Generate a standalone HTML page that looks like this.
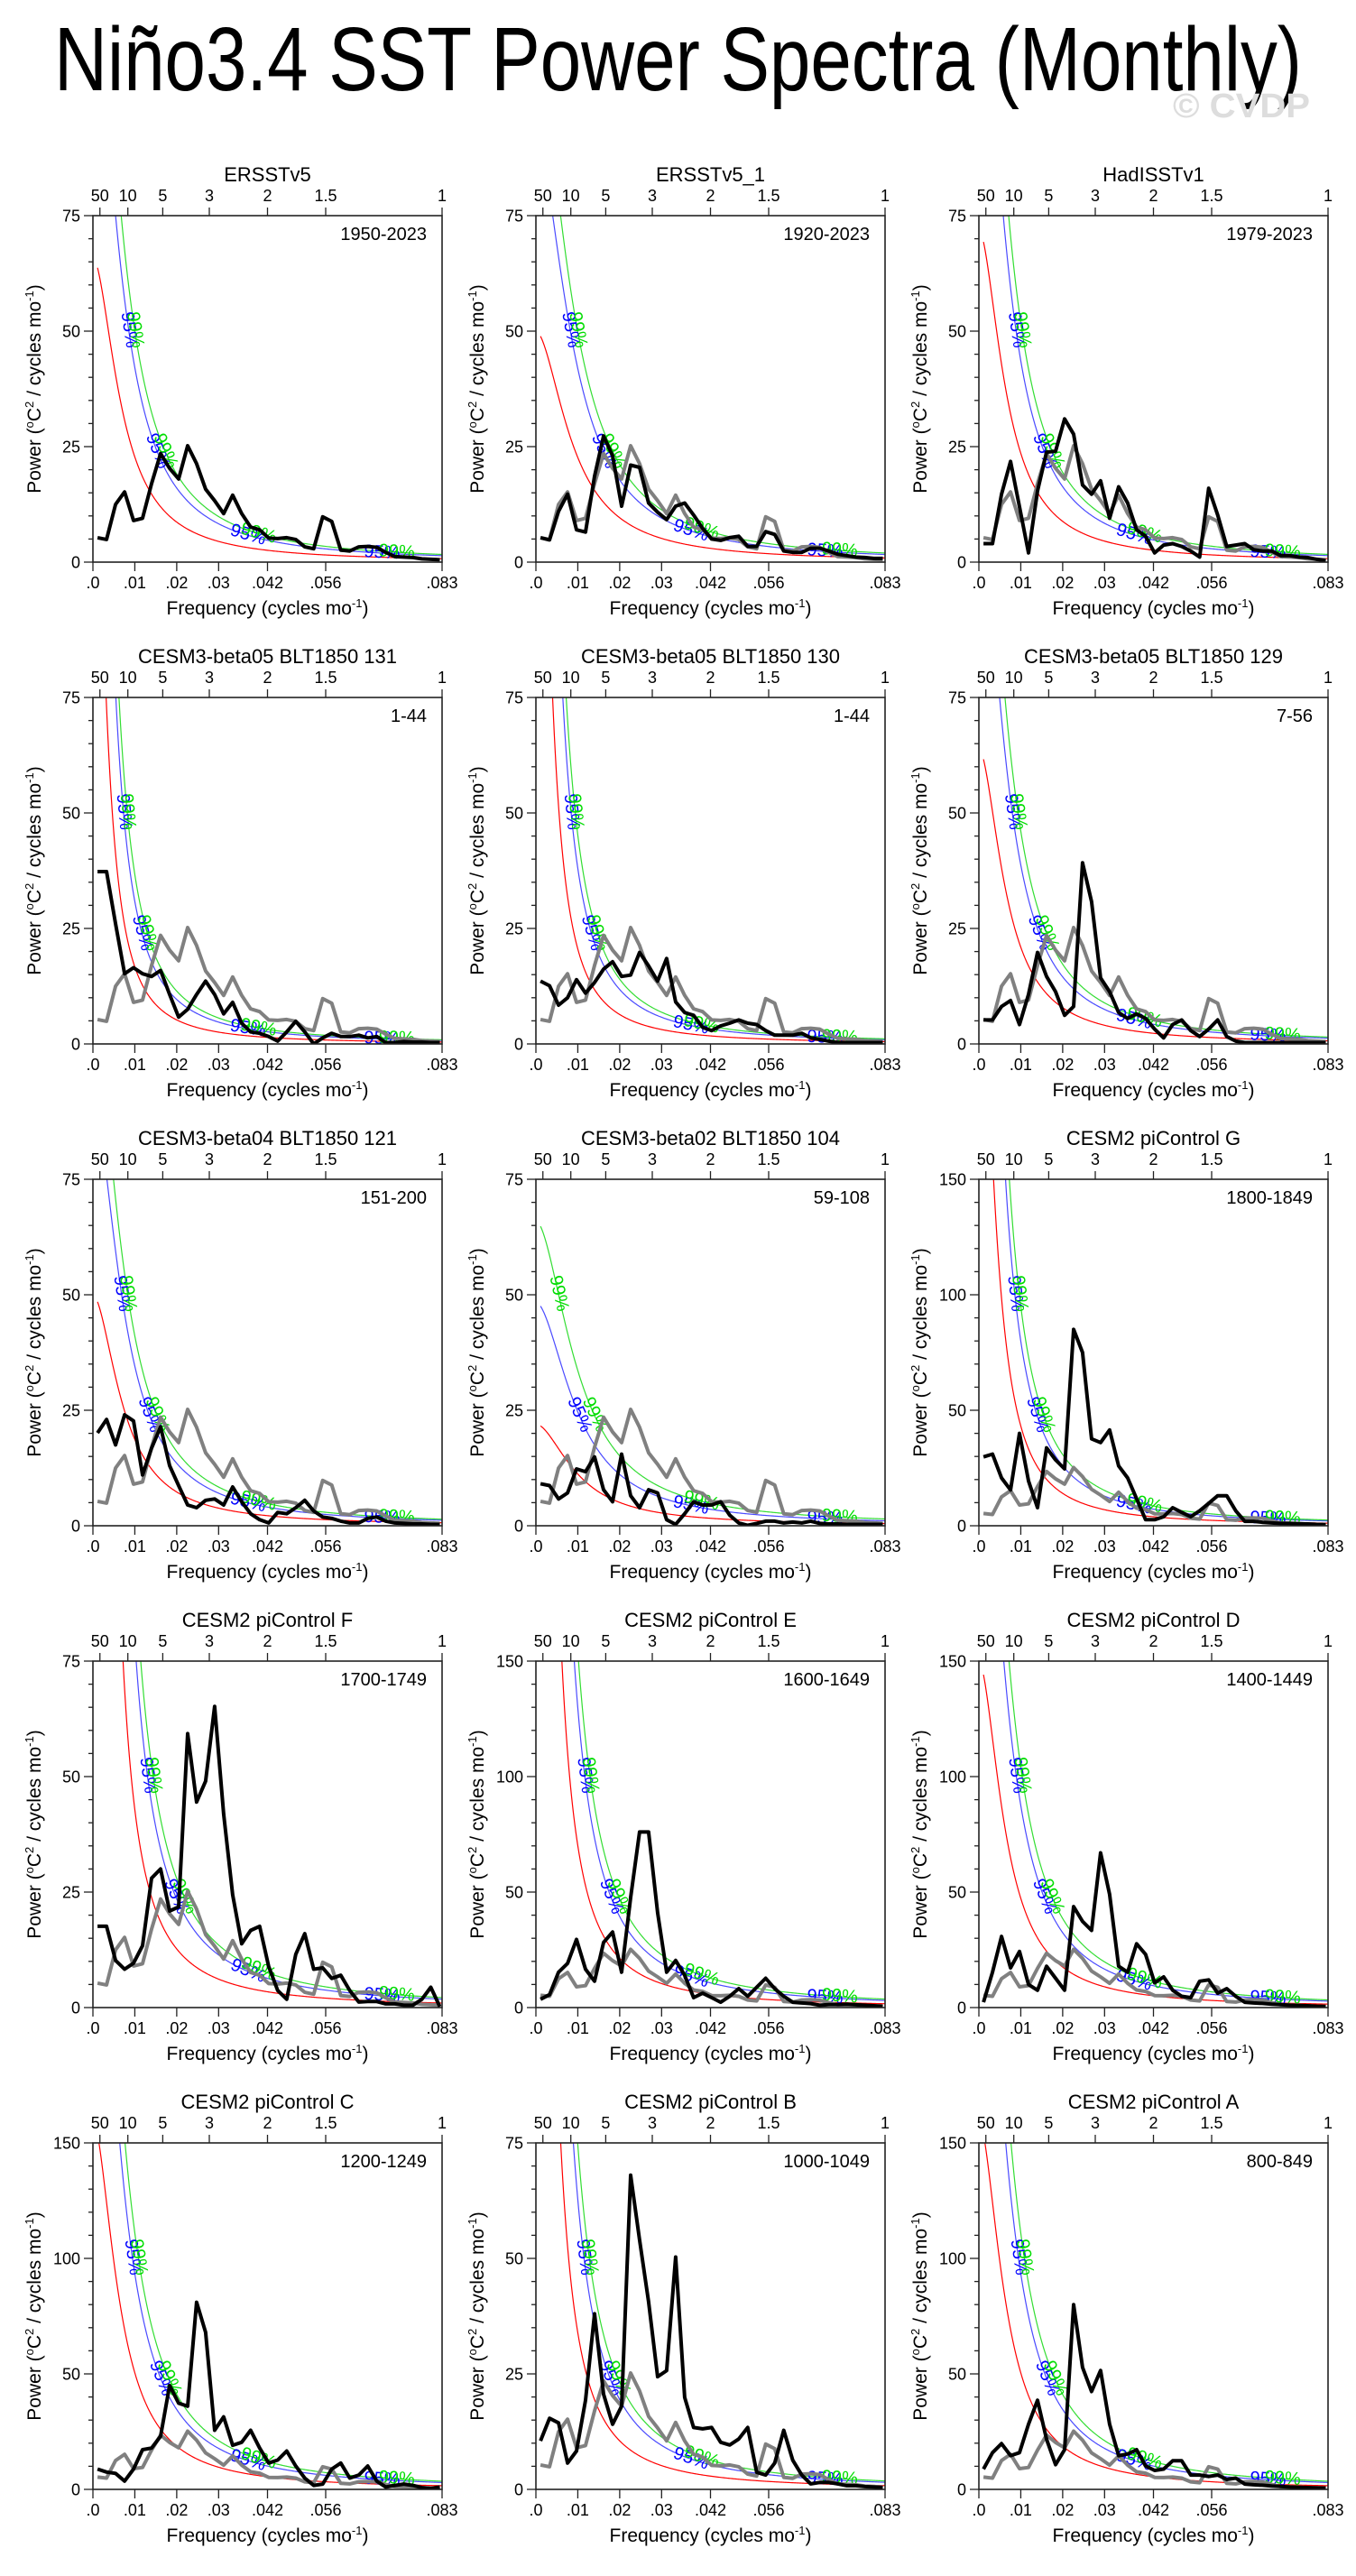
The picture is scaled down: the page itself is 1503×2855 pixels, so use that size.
<!DOCTYPE html>
<html><head><meta charset="utf-8"><title>Niño3.4 SST Power Spectra (Monthly)</title>
<style>html,body{margin:0;padding:0;background:#fff}svg{display:block}text{font-family:"Liberation Sans",sans-serif}</style>
</head><body>
<svg id="root" xmlns="http://www.w3.org/2000/svg" width="1503" height="2855" viewBox="0 0 1503 2855">
<rect width="1503" height="2855" fill="#fff"/>
<text x="60" y="100" font-size="100" textLength="1383" lengthAdjust="spacingAndGlyphs">Niño3.4 SST Power Spectra (Monthly)</text>
<text x="1300" y="130" font-size="38" font-weight="bold" fill="#dddddd" textLength="152" lengthAdjust="spacingAndGlyphs">© CVDP</text>
</svg>
<script>
const freqs=[0.0011,0.00325,0.0054,0.00755,0.0097,0.01185,0.014,0.01615,0.0183,0.02045,0.0226,0.02475,0.0269,0.02905,0.0312,0.03335,0.0355,0.03765,0.0398,0.04195,0.0441,0.04625,0.0484,0.05055,0.0527,0.05485,0.057,0.05915,0.0613,0.06345,0.0656,0.06775,0.0699,0.07205,0.0742,0.07635,0.0785,0.08065,0.0828];
const s1=[5.3,4.9,12.5,15.2,9,9.5,17,23.5,20.3,18,25.2,21.3,15.8,13.3,10.5,14.5,10.5,7.6,7,5.2,5.1,5.3,4.9,3.3,2.9,9.8,8.8,2.6,2.4,3.3,3.4,3.2,2.1,1.2,1.1,1,0.7,0.6,0.5];
const s2=[5.3,4.8,11,14.7,7,6.5,18.6,27.3,23,12.1,21,20.5,12.8,10.8,9.2,12.1,12.8,10.2,7.3,5,4.7,5.3,5.6,3.4,3.4,6.6,6,2.4,2.1,2.1,3,3,2.4,1.7,1.4,1.1,1,0.8,0.8];
const s3=[4,4,14.7,21.8,12,2,15.4,23.8,24,31,27.7,16.7,14.7,17.6,9.5,16.3,12.8,7,5.6,2,3.7,4,3.4,2.4,1.1,16,10.2,3.4,3.7,4,2.7,2.4,2.4,1.4,1.4,1.1,1,0.6,0.3];
const s4=[37.3,37.3,26,15.2,16.5,15.2,14.6,15.9,10.7,5.8,7.5,10.7,13.6,10.7,6.5,9,4.5,2.6,2.3,1.6,0.6,2.6,4.9,2.6,0,1.3,2.3,1.6,1.6,1.9,1.3,1.6,0.3,0.3,0.5,0.4,0.4,0.3,0.3];
const s5=[13.6,12.6,8.4,10,13.9,11,13.3,16.2,17.8,14.6,14.9,19.8,16.9,13.6,18.5,9.1,6.8,6.2,3.6,2.9,3.9,4.5,5.2,4.5,4.2,2.9,1.9,1.9,1.9,2.3,1.3,1,0.6,0.3,0.3,0.3,0.3,0.3,0.3];
const s6=[5.2,5.2,8.1,9.4,4.2,10.7,19.8,14.6,11.3,6.2,8.1,39.2,30.8,14.3,11.3,6.8,5.5,6.5,5.5,3.2,1.3,4.2,5.2,2.9,1.6,3.2,5.2,1.6,0.6,0.3,0.3,0.3,0.3,0.3,0.3,0.3,0.3,0.3,0.3];
const s7=[20.1,23,17.5,24,22.7,11,16.8,21.4,13,8.7,4.5,3.9,5.5,5.8,4.5,8.4,5.2,2.6,1.3,0.6,2.9,2.6,3.9,5.5,3.2,1.9,1.6,1,0.6,0.6,1.6,1.9,1,0.6,0.5,0.4,0.4,0.3,0.3];
const s8=[9.1,8.7,5.8,7.1,12.3,11.7,14.9,7.8,5.2,15.5,6.5,3.9,7.8,7.1,1.3,0.3,2.6,5.2,4.5,4.5,5.2,2.3,0.6,0.1,0.5,1,1,0.6,0.8,0.6,1,0.5,0.4,0.4,0.3,0.3,0.3,0.3,0.3];
const s9=[29.8,31,20.7,15.5,40,19.4,7.8,33.7,28.5,24.6,85,75,37.6,36,41.5,25.9,20.7,11.7,2.6,2.6,3.9,7.8,5.8,3.9,6.5,9.7,13,13,6.5,1.9,1.9,1.5,1.2,1,1,0.8,0.8,0.6,0.5];
const s10=[17.6,17.6,10.2,8.3,9.6,13.4,28,30,20.9,21.8,59.3,44.5,49,65.2,41.9,24.4,13.8,16.7,17.6,8.9,3.7,1.8,11.5,16,8.3,8.6,6.3,7,3.7,1.2,1.3,1.3,0.8,0.8,0.5,0.5,1.8,4.4,0.2];
const s11=[3.6,5.6,15.3,19.1,29.5,16.6,11.4,28.2,32.7,15.3,47.6,76,76,41.1,15.3,20.4,14,4.3,6.2,4.3,2.3,4.9,8.2,4.9,8.8,12.7,8.2,4.9,2.3,2,1.7,1,1.3,1.3,1.5,1.2,1,0.8,0.6];
const s12=[2.3,15.3,30.8,17.2,24.3,10,7.5,17.9,12.7,7.5,43.7,37.3,33.4,67,49,17.9,15.3,27.6,23,10.7,13.3,7.5,4.9,4.3,11.4,12,6.2,8.2,4.9,2.3,2,1.8,1.5,1.3,1,0.9,0.8,0.6,0.5];
const s13=[8.8,7.5,6.9,3.6,8.8,17.2,17.9,23,45,37.3,36,81,68,25.6,31.4,19.1,20.4,25.6,17.9,11.4,12.7,16.6,10.1,4.9,1.7,2.3,8.8,11.4,4.9,6.2,10.1,3.6,1,1.7,2.3,1.7,0.8,0.4,1];
const s14=[10.5,15.4,14.4,5.7,8.3,19.3,38,20.6,14.1,18,68,54,40.6,24.4,25.7,50.3,19.9,13.4,13.1,13.4,10.2,9.6,10.9,13.4,3.7,3.1,5.7,12.8,6.3,3.1,1.2,1.5,1.5,1.2,0.8,0.8,0.6,0.5,0.4];
const s15=[8.8,15.9,19.8,14.6,15.9,28.2,38.6,21.7,10.7,17.2,80,52.8,42.4,51.5,28.2,14.6,15.3,17.2,10.1,8.2,8.8,12.4,12.4,6.2,6.2,5.6,6.2,4.3,4.9,2.3,2,1.8,1.5,1.3,1,0.9,0.8,0.7,0.6];
const series=[s1,s2,s3,s4,s5,s6,s7,s8,s9,s10,s11,s12,s13,s14,s15];
const titles=["ERSSTv5","ERSSTv5_1","HadISSTv1","CESM3-beta05 BLT1850 131","CESM3-beta05 BLT1850 130","CESM3-beta05 BLT1850 129","CESM3-beta04 BLT1850 121","CESM3-beta02 BLT1850 104","CESM2 piControl G","CESM2 piControl F","CESM2 piControl E","CESM2 piControl D","CESM2 piControl C","CESM2 piControl B","CESM2 piControl A"];
const years=["1950-2023","1920-2023","1979-2023","1-44","1-44","7-56","151-200","59-108","1800-1849","1700-1749","1600-1649","1400-1449","1200-1249","1000-1049","800-849"];
const ymaxes=[75,75,75,75,75,75,75,75,150,75,150,150,150,75,150];
const redAmp=[66,50,72,150,200,64,50,22,268,1000,920,150,160,330,160];
const redFc=[0.007,0.009,0.0067,0.00315,0.003,0.0067,0.0075,0.0102,0.004,0.00178,0.0025,0.0065,0.0065,0.003,0.0065];
const sig95=[1.85,1.85,1.85,1.85,1.85,1.85,1.85,2.2,1.85,1.85,1.85,1.85,1.85,1.85,1.85];
const sig99=[2.2,2.2,2.2,2.2,2.2,2.2,2.2,3.0,2.2,2.2,2.2,2.2,2.2,2.2,2.2];
const xTickVals=[0,0.01,0.02,0.03,1/24,1/18,1/12];
const xTickLabels=[".0",".01",".02",".03",".042",".056",".083"];
const periodVals=[50,10,5,3,2,1.5,1];
const periodLabels=["50","10","5","3","2","1.5","1"];

const NS="http://www.w3.org/2000/svg";
const root=document.getElementById('root');
const colX=[103,594,1085], rowY=[239,773,1307,1841,2375], W=387, H=384, FMAX=1/12;
function mk(tag,attrs,parent){const e=document.createElementNS(NS,tag);for(const k in attrs)e.setAttribute(k,attrs[k]);(parent||root).appendChild(e);return e;}
function redNoise(p,f){return redAmp[p]/(1+Math.pow(f/redFc[p],1.8));}

for(let p=0;p<15;p++){
  const L=colX[p%3], T=rowY[Math.floor(p/3)], ymax=ymaxes[p];
  const xs=f=>L+f/FMAX*W, ys=v=>T+H-v/ymax*H;
  const g=mk('g',{});
  
  
  const cp=mk('clipPath',{id:'clip'+p},g);
  mk('rect',{x:L,y:T,width:W,height:H},cp);
  const pg=mk('g',{'clip-path':'url(#clip'+p+')'},g);
  const curves=[[1,'#ff0000','red-noise-curve'],[sig95[p],'#4a4aff','significance-95-curve'],[sig99[p],'#33dd33','significance-99-curve']];
  curves.forEach((c)=>{
    let d='';
    for(let k=0;k<=400;k++){const f=freqs[0]+(FMAX-freqs[0])*k/400;const v=redNoise(p,f)*c[0];d+=(k?'L':'M')+xs(f).toFixed(2)+' '+ys(Math.min(v,ymax*3)).toFixed(2);}
    const path=mk('path',{d:d,fill:'none',stroke:c[1],'stroke-width':1.2},pg);
    
    
  });
  [[sig95[p],'#0000ff','95%',[0.0095,0.0165,0.037,0.069]],[sig99[p],'#00dd00','99%',[0.0108,0.0182,0.0395,0.0725]]].forEach((c)=>{
    c[3].forEach((f0,li)=>{
      let f=f0;
      if(li<2){
        const target=ymax*(li===0?0.67:0.32);
        let lo=freqs[0],hi=FMAX;
        if(redNoise(p,lo)*c[0]<target){ if(li===0) return; f=f0; }
        else{for(let it=0;it<40;it++){const m=(lo+hi)/2;if(redNoise(p,m)*c[0]>target)lo=m;else hi=m;}f=(lo+hi)/2;}
      }
      const v=redNoise(p,f)*c[0];
      const x1=xs(f),y1=ys(v),x2=xs(f+0.0004),y2=ys(redNoise(p,f+0.0004)*c[0]);
      const ang=Math.atan2(y2-y1,x2-x1)*180/Math.PI;
      const t=mk('text',{x:x1,y:y1,'font-size':20,fill:c[1],'text-anchor':'middle','dominant-baseline':'middle',transform:'rotate('+ang.toFixed(1)+' '+x1.toFixed(1)+' '+y1.toFixed(1)+')'},pg);
      t.textContent=c[2];
      
      
    });
  });
  if(p>0){
    const gp=mk('polyline',{points:freqs.map((f,i)=>xs(f).toFixed(1)+','+ys(s1[i]).toFixed(1)).join(' '),fill:'none',stroke:'#808080','stroke-width':4,'stroke-linejoin':'round'},pg);
    
    
  }
  const bl=mk('polyline',{points:freqs.map((f,i)=>xs(f).toFixed(1)+','+ys(series[p][i]).toFixed(1)).join(' '),fill:'none',stroke:'#000','stroke-width':4,'stroke-linejoin':'round'},pg);
  
  
  const fr=mk('rect',{x:L,y:T,width:W,height:H,fill:'none',stroke:'#222','stroke-width':1.6},g);
  
  
  const yg=mk('g',{},g);
  
  
  const minorStep=ymax===75?5:10, majorStep=ymax===75?25:50;
  for(let v=0;v<=ymax;v+=minorStep){
    const major=v%majorStep===0;
    mk('line',{x1:L-(major?10:5),x2:L,y1:ys(v),y2:ys(v),stroke:'#222','stroke-width':1.3},yg);
    if(major){const t=mk('text',{x:L-14,y:ys(v)+6.5,'font-size':18,'text-anchor':'end'},yg);t.textContent=String(v);
      
      }
  }
  const xg=mk('g',{},g);
  
  
  xTickVals.forEach((f,i)=>{
    mk('line',{x1:xs(f),x2:xs(f),y1:T+H,y2:T+H+10,stroke:'#222','stroke-width':1.3},xg);
    const t=mk('text',{x:xs(f),y:T+H+29,'font-size':18,'text-anchor':'middle'},xg);t.textContent=xTickLabels[i];
    
    
  });
  const tg=mk('g',{},g);
  
  
  periodVals.forEach((yr,i)=>{
    const f=1/(12*yr);
    mk('line',{x1:xs(f),x2:xs(f),y1:T,y2:T-9,stroke:'#222','stroke-width':1.3},tg);
    const t=mk('text',{x:xs(f),y:T-16,'font-size':18,'text-anchor':'middle'},tg);t.textContent=periodLabels[i];
    
    
  });
  const tt=mk('text',{x:L+W/2,y:T-38,'font-size':22,'text-anchor':'middle'},g);tt.textContent=titles[p];
  
  
  const yr=mk('text',{x:L+W-17,y:T+27,'font-size':20,'text-anchor':'end'},g);yr.textContent=years[p];
  
  
  const xt=mk('text',{x:L+W/2,y:T+H+58,'font-size':21,'text-anchor':'middle'},g);
  xt.innerHTML='Frequency (cycles mo<tspan dy="-8" font-size="13">-1</tspan><tspan dy="8">)</tspan>';
  
  
  const cy=T+H/2, cx=L-58;
  const yt=mk('text',{x:cx,y:cy,'font-size':21,'text-anchor':'middle',transform:'rotate(-90 '+cx+' '+cy+')'},g);
  yt.innerHTML='Power (<tspan dy="-8" font-size="13">o</tspan><tspan dy="8">C</tspan><tspan dy="-8" font-size="13">2</tspan><tspan dy="8"> / cycles mo</tspan><tspan dy="-8" font-size="13">-1</tspan><tspan dy="8">)</tspan>';
  
  
}
</script>
</body></html>
